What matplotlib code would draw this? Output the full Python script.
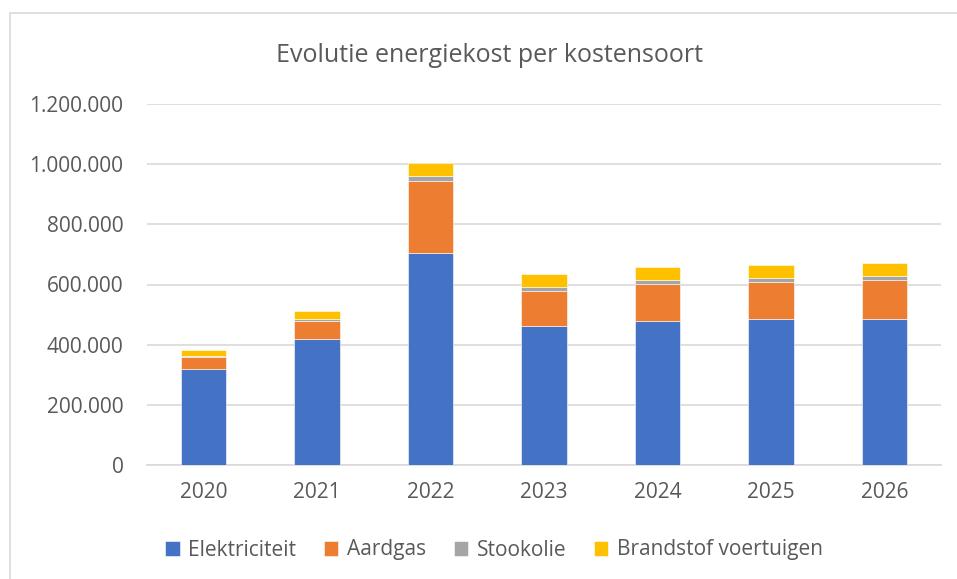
import numpy as np
import matplotlib
matplotlib.use('Agg')
import matplotlib.pyplot as plt
from matplotlib.patches import Rectangle
from matplotlib.ticker import FuncFormatter

plt.rcParams['font.family'] = ['Open Sans', 'DejaVu Sans']

years = ['2020', '2021', '2022', '2023', '2024', '2025', '2026']
elektriciteit = [320000, 418000, 706000, 461000, 480000, 484000, 486000]
aardgas = [38000, 60000, 238000, 116000, 122000, 123000, 128000]
stookolie = [5000, 8000, 18000, 15000, 14000, 15000, 15000]
brandstof = [18000, 25000, 41000, 42000, 42000, 42000, 42000]

series = [
    ('Elektriciteit', elektriciteit, '#4472C4'),
    ('Aardgas', aardgas, '#ED7D31'),
    ('Stookolie', stookolie, '#A5A5A5'),
    ('Brandstof voertuigen', brandstof, '#FFC000'),
]

txt = '#595959'
fig = plt.figure(figsize=(9.57, 5.79), dpi=100)
ax = fig.add_axes([147 / 957, 114 / 579, 794 / 957, 361 / 579])

x = np.arange(len(years))
bottom = np.zeros(len(years))
for name, vals, col in series:
    ax.bar(x, vals, 0.4, bottom=bottom, color=col, label=name,
           edgecolor='white', linewidth=0.4, zorder=3)
    bottom += np.array(vals)

ax.set_xlim(-0.5, len(years) - 0.5)
ax.set_ylim(0, 1200000)
ax.set_yticks(np.arange(0, 1200001, 200000))
ax.yaxis.set_major_formatter(FuncFormatter(lambda v, p: f'{int(v):,}'.replace(',', '.')))
ax.set_xticks(x)
ax.set_xticklabels(years)
ax.grid(axis='y', color='#d9d9d9', linewidth=1.2, zorder=0)
for s in ['top', 'right', 'left']:
    ax.spines[s].set_visible(False)
ax.spines['bottom'].set_color('#d9d9d9')
ax.spines['bottom'].set_linewidth(1.2)
ax.tick_params(axis='both', length=0, labelsize=15, colors=txt)
ax.tick_params(axis='y', pad=17)
ax.tick_params(axis='x', pad=12)

fig.text(490 / 957, 1 - 55 / 579, 'Evolutie energiekost per kostensoort',
         ha='center', va='center', fontsize=18, color=txt)

leg = fig.legend(loc='center', bbox_to_anchor=(494 / 957, 1 - 550 / 579), ncol=4,
                 frameon=False, fontsize=15, handlelength=0.7, handleheight=0.7,
                 handletextpad=0.4, columnspacing=1.33)
for t in leg.get_texts():
    t.set_color(txt)

fig.patches.append(Rectangle((10 / 957, -0.1), 1.1, 1 - 13 / 579 + 0.1,
                             transform=fig.transFigure, fill=False,
                             edgecolor='#d9d9d9', linewidth=1.2))

fig.savefig('out.png', dpi=100)
